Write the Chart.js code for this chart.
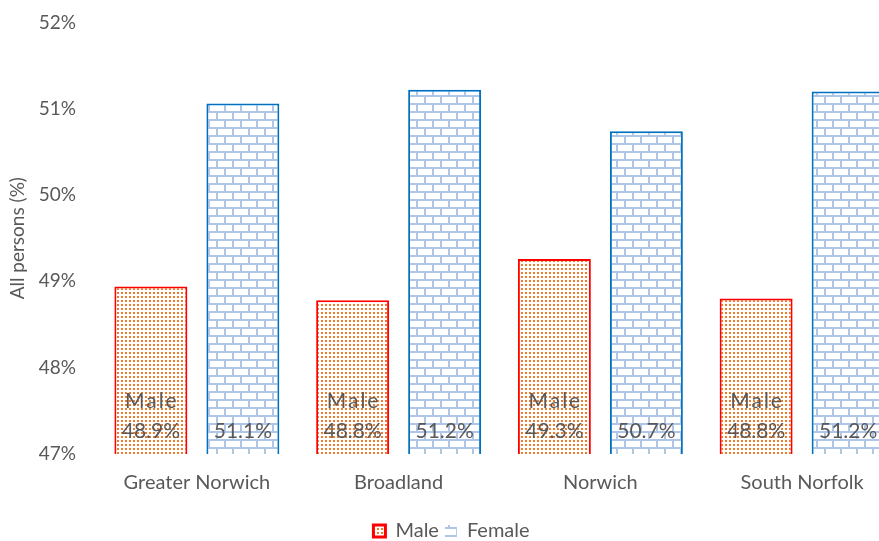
<!DOCTYPE html>
<html>
<head>
<meta charset="utf-8">
<script src="https://cdn.jsdelivr.net/npm/chart.js@4"></script>
<style>
  html, body { margin: 0; padding: 0; background: #fff; overflow: hidden; }
  #wrap { width: 879px; height: 541px; overflow: hidden; }
  #box { width: 905px; height: 560px; margin-top: -9px; }
</style>
</head>
<body>
<div id="wrap"><div id="box"><canvas id="chart"></canvas></div></div>
<script>
var areas = ["Greater Norwich", "Broadland", "Norwich", "South Norfolk"]
var male = [48.94, 48.78, 49.26, 48.80]
var female = [51.06, 51.22, 50.74, 51.20]
var yTicks = [47, 48, 49, 50, 51, 52]

var txt = "#595959"
var fontFam = "Lato, 'Open Sans', sans-serif"

// dotted fill for the male bars
function dotPattern(){
  let c = document.createElement("canvas")
  c.width = 4; c.height = 4
  let g = c.getContext("2d")
  g.fillStyle = "#fff"
  g.fillRect(0, 0, 4, 4)
  g.fillStyle = "#EF7A2A"
  g.fillRect(1, 1, 2, 2)
  return g.createPattern(c, "repeat")
}

// brick fill for the female bars
function brickPattern(){
  let c = document.createElement("canvas")
  c.width = 16; c.height = 16
  let g = c.getContext("2d")
  g.fillStyle = "#fff"
  g.fillRect(0, 0, 16, 16)
  g.fillStyle = "#B0C6E6"
  g.fillRect(0, 0, 16, 2)
  g.fillRect(0, 8, 16, 2)
  g.fillRect(0, 0, 2, 8)
  g.fillRect(8, 8, 2, 8)
  return g.createPattern(c, "repeat")
}

// value labels at the foot of every bar
var barLabels = {
  id: "barLabels",
  afterDraw(chart){
    let ctx = chart.ctx
    let base = chart.scales.y.getPixelForValue(yTicks[0])
    ctx.save()
    ctx.font = "21px " + fontFam
    ctx.fillStyle = txt
    ctx.textAlign = "center"
    ctx.textBaseline = "middle"
    chart.data.datasets.forEach(function(ds, di){
      let meta = chart.getDatasetMeta(di)
      meta.data.forEach(function(bar, i){
        ctx.letterSpacing = "0px"
        ctx.fillText(ds.data[i].toFixed(1) + "%", bar.x, base - 23)
        if(di == 0){
          ctx.letterSpacing = "2px"
          ctx.fillText("Male", bar.x + 1, base - 53)
        }
      })
    })
    ctx.restore()
  }
}

new Chart(document.getElementById("chart"), {
  type: "bar",
  data: {
    labels: areas,
    datasets: [{
      label: "Male",
      data: male,
      backgroundColor: dotPattern(),
      borderColor: "#FF0000",
      borderWidth: 2
    }, {
      label: "Female",
      data: female,
      backgroundColor: brickPattern(),
      borderColor: "#0070C0",
      borderWidth: 2
    }]
  },
  options: {
    responsive: true,
    maintainAspectRatio: false,
    animation: false,
    categoryPercentage: 0.912,
    barPercentage: 0.793,
    layout: { padding: { top: 0, right: 2, left: 0, bottom: 0 } },
    plugins: {
      legend: {
        position: "bottom",
        labels: {
          color: txt,
          font: { size: 20, family: fontFam },
          boxWidth: 12,
          boxHeight: 12,
          padding: 6,
          generateLabels: function(chart){
            let items = Chart.defaults.plugins.legend.labels.generateLabels(chart)
            items[0].lineWidth = 3
            items[1].lineWidth = 0
            items[1].strokeStyle = "rgba(0,0,0,0)"
            return items
          }
        }
      },
      tooltip: { enabled: false }
    },
    scales: {
      x: {
        grid: { display: false, drawTicks: false },
        border: { display: false },
        ticks: { color: txt, font: { size: 20, family: fontFam }, padding: 17 },
        afterFit: function(axis){ axis.height += 3 }
      },
      y: {
        min: yTicks[0],
        max: yTicks[yTicks.length - 1],
        afterBuildTicks: function(axis){ axis.ticks = yTicks.map(function(v){ return { value: v } }) },
        afterFit: function(axis){ axis.width = 96 },
        grid: { display: false, drawTicks: false },
        border: { display: false },
        ticks: {
          color: txt,
          font: { size: 19, family: fontFam },
          padding: 20,
          callback: function(v){ return v + "%" }
        },
        title: {
          display: true,
          text: "All persons (%)",
          color: txt,
          font: { size: 19, family: fontFam },
          padding: { top: 6, bottom: 10 }
        }
      }
    }
  },
  plugins: [barLabels]
});
</script>
</body>
</html>
